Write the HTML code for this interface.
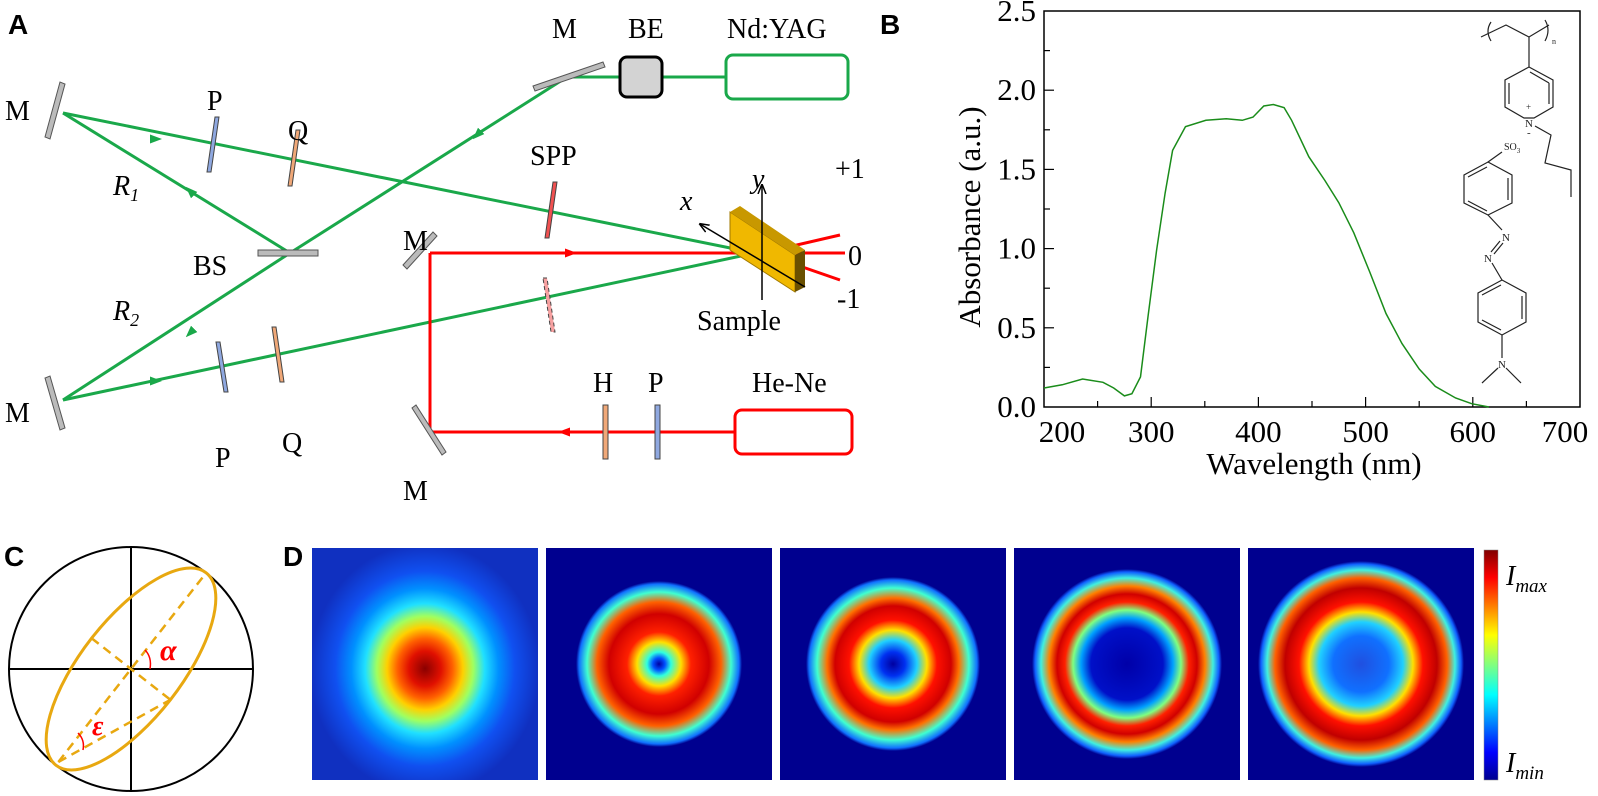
<!DOCTYPE html>
<html><head><meta charset="utf-8">
<style>
body{margin:0;background:#fff;width:1598px;height:796px;overflow:hidden;position:relative;font-family:"Liberation Serif",serif}
svg{position:absolute;left:0;top:0}
.img{position:absolute;top:548px;width:226px;height:232px}
</style></head><body>
<svg width="1598" height="796" font-family="Liberation Serif, serif">
<defs>
<marker id="ag" markerWidth="4" markerHeight="4" refX="2" refY="2" orient="auto"><path d="M0,0.5 L4,2 L0,3.5 Z" fill="#1aa84a"/></marker>
<marker id="ar" markerWidth="4" markerHeight="4" refX="2" refY="2" orient="auto"><path d="M0,0.5 L4,2 L0,3.5 Z" fill="#f00"/></marker>
<marker id="ak" markerWidth="10" markerHeight="10" refX="9" refY="5" orient="auto" markerUnits="userSpaceOnUse"><path d="M0,1 L10,5 L0,9" fill="none" stroke="#000" stroke-width="1.5"/></marker>
</defs>
<!-- Panel A -->
<g>
<text x="8" y="34" font-family="Liberation Sans, sans-serif" font-weight="bold" font-size="28">A</text>
<g stroke="#1aa84a" stroke-width="3" fill="none">
<line x1="726" y1="77" x2="567" y2="77"/>
<line x1="567" y1="77" x2="290" y2="253"/>
<line x1="290" y1="253" x2="63" y2="400"/>
<line x1="290" y1="253" x2="63" y2="113"/>
<line x1="63" y1="113" x2="755" y2="253"/>
<line x1="63" y1="400" x2="755" y2="253"/>
<path d="M478,134 L477,135" marker-end="url(#ag)"/>
<path d="M191,192 L190,191" marker-end="url(#ag)"/>
<path d="M191,332 L190,333" marker-end="url(#ag)"/>
<path d="M155,139 L156,139" marker-end="url(#ag)"/>
<path d="M155,381 L156,381" marker-end="url(#ag)"/>
</g>
<g stroke="#f00" stroke-width="3" fill="none">
<line x1="735" y1="432" x2="430" y2="432"/>
<line x1="430" y1="432" x2="430" y2="253"/>
<line x1="430" y1="253" x2="755" y2="253"/>
<line x1="762" y1="253" x2="840" y2="235"/>
<line x1="762" y1="253" x2="845" y2="253"/>
<line x1="762" y1="253" x2="840" y2="280"/>
<path d="M570,253 L571,253" marker-end="url(#ar)"/>
<path d="M565,432 L564,432" marker-end="url(#ar)"/>
</g>
<rect x="726" y="55" width="122" height="44" rx="7" fill="none" stroke="#1aa84a" stroke-width="3"/>
<rect x="620" y="57" width="42" height="40" rx="7" fill="#d3d3d3" stroke="#000" stroke-width="3"/>
<rect x="735" y="410" width="117" height="44" rx="7" fill="none" stroke="#f00" stroke-width="3"/>
<g stroke="#555" stroke-width="1" fill="#bbb">
<polygon points="533,86 603,62 605,67 535,91"/>
<polygon points="45,137 60,82 65,84 50,139"/>
<polygon points="45,378 60,430 65,428 50,376"/>
<polygon points="403,265 433,232 437,236 407,269"/>
<polygon points="412,408 442,455 446,452 416,405"/>
<rect x="258" y="250" width="60" height="6"/>
</g>
<g stroke="#444" stroke-width="1">
<polygon points="215,117 219,117 211,172 207,172" fill="#8fa8e0"/>
<polygon points="296,130 300,130 292,186 288,186" fill="#f0a878"/>
<polygon points="216,342 220,342 228,392 224,392" fill="#8fa8e0"/>
<polygon points="272,327 276,327 284,382 280,382" fill="#f0a878"/>
<polygon points="553,182 557,182 549,238 545,238" fill="#f05050"/>
<polygon points="543,278 547,278 555,332 551,332" fill="#f6a0a0" stroke-dasharray="4,3"/>
<rect x="603" y="405" width="5" height="54" fill="#f0a878"/>
<rect x="655" y="405" width="5" height="54" fill="#8fa8e0"/>
</g>
<g>
<polygon points="730,212 795,255 795,292 730,250" fill="#f0b800" stroke="#a07800"/>
<polygon points="730,212 740,206 805,250 795,255" fill="#c89800"/>
<polygon points="795,255 805,250 805,287 795,292" fill="#6a5000"/>
<line x1="762" y1="300" x2="762" y2="185" stroke="#000" stroke-width="1.5" marker-end="url(#ak)"/>
<line x1="805" y1="287" x2="700" y2="224" stroke="#000" stroke-width="1.5" marker-end="url(#ak)"/>
</g>
<g font-size="28" fill="#000">
<text x="5" y="120">M</text><text x="5" y="422">M</text>
<text x="207" y="110">P</text><text x="288" y="140">Q</text>
<text x="215" y="467">P</text><text x="282" y="452">Q</text>
<text x="193" y="275">BS</text>
<text x="113" y="195" font-style="italic">R<tspan font-size="18" dy="6">1</tspan></text>
<text x="113" y="320" font-style="italic">R<tspan font-size="18" dy="6">2</tspan></text>
<text x="552" y="38">M</text><text x="628" y="38">BE</text><text x="727" y="38">Nd:YAG</text>
<text x="530" y="165">SPP</text>
<text x="403" y="250">M</text><text x="403" y="500">M</text>
<text x="593" y="392">H</text><text x="648" y="392">P</text><text x="752" y="392">He-Ne</text>
<text x="697" y="330">Sample</text>
<text x="680" y="210" font-style="italic">x</text><text x="752" y="188" font-style="italic">y</text>
<text x="835" y="178">+1</text><text x="848" y="265">0</text><text x="837" y="308">-1</text>
</g>
</g>

<!-- Panel B -->
<g id="chartB">
<text x="880" y="34" font-family="Liberation Sans, sans-serif" font-weight="bold" font-size="28">B</text>
<rect x="1044" y="11" width="536" height="396" fill="none" stroke="#000" stroke-width="1.5"/>
<g id="ticksB"></g>
<path id="curveB" fill="none" stroke="#1a8c1a" stroke-width="1.5"/>
<text x="1314" y="474" text-anchor="middle" font-size="31">Wavelength (nm)</text>
<text transform="translate(980,217) rotate(-90)" text-anchor="middle" font-size="31">Absorbance (a.u.)</text>
<g stroke="#222" stroke-width="1.2" fill="none">
<polyline points="1481,37 1506,25 1529,37 1549,25"/>
<path d="M1491,22 Q1485,31 1491,41 M1545,20 Q1551,30 1545,41"/>
<line x1="1529" y1="37" x2="1529" y2="67"/>
<polygon points="1529,67 1553,80 1553,107 1534,118 1524,118 1505,107 1505,80"/>
<path d="M1509,83 L1509,104 M1549,83 L1549,104 M1530,72 L1549,83"/>
<polyline points="1535,126 1551,135 1545,163 1571,170 1571,197"/>
<line x1="1488" y1="162" x2="1502" y2="152"/>
<polygon points="1488,162 1512,175 1512,203 1488,215 1464,203 1464,175"/>
<path d="M1508,178 L1508,200 M1468,177 L1487,167 M1468,201 L1487,211"/>
<line x1="1488" y1="215" x2="1502" y2="230"/>
<path d="M1503,243 L1494,254 M1500,241 L1491,252"/>
<line x1="1492" y1="263" x2="1502" y2="280"/>
<polygon points="1502,280 1526,293 1526,322 1502,335 1478,322 1478,293"/>
<path d="M1522,296 L1522,319 M1482,295 L1501,285 M1482,320 L1501,330"/>
<line x1="1502" y1="335" x2="1502" y2="358"/>
<path d="M1498,368 L1482,383 M1506,368 L1521,383"/>
</g>
<g font-family="Liberation Serif, serif" font-size="11" fill="#222">
<text x="1525" y="127">N</text><text x="1526" y="110" font-size="9">+</text><text x="1527" y="136" font-size="11">-</text>
<text x="1504" y="150" font-size="10">SO<tspan font-size="7" dy="3">3</tspan></text>
<text x="1502" y="241">N</text><text x="1484" y="262">N</text><text x="1498" y="368">N</text>
<text x="1552" y="44" font-size="8">n</text>
</g>
</g>

<!-- Panel C -->
<g>
<text x="4" y="566" font-family="Liberation Sans, sans-serif" font-weight="bold" font-size="28">C</text>
<circle cx="131" cy="669" r="122" fill="none" stroke="#000" stroke-width="2"/>
<line x1="9" y1="669" x2="253" y2="669" stroke="#000" stroke-width="2"/>
<line x1="131" y1="547" x2="131" y2="791" stroke="#000" stroke-width="2"/>
<g transform="translate(131,669) rotate(-52)">
<ellipse cx="0" cy="0" rx="122" ry="50" fill="none" stroke="#e8a810" stroke-width="3"/>
<g stroke="#e8a810" stroke-width="2.5" stroke-dasharray="9,6" fill="none">
<line x1="-118" y1="0" x2="118" y2="0"/>
<line x1="0" y1="-50" x2="0" y2="50"/>
<line x1="-118" y1="0" x2="0" y2="50"/>
</g>
</g>
<path d="M145,650 Q152,657 150,669" stroke="#f00" stroke-width="1.5" fill="none"/>
<path d="M78,733 Q85,740 83,750" stroke="#f00" stroke-width="1.5" fill="none"/>
<text x="160" y="660" fill="#f00" font-size="30" font-weight="bold" font-style="italic">α</text>
<text x="92" y="735" fill="#f00" font-size="28" font-weight="bold" font-style="italic">ε</text>
</g>

<!-- Panel D labels -->
<text x="283" y="566" font-family="Liberation Sans, sans-serif" font-weight="bold" font-size="28">D</text>
<defs><linearGradient id="jet" x1="0" y1="1" x2="0" y2="0">
<stop offset="0" stop-color="#00008f"/><stop offset="0.12" stop-color="#0000ff"/><stop offset="0.37" stop-color="#00ffff"/><stop offset="0.5" stop-color="#80ff80"/><stop offset="0.63" stop-color="#ffff00"/><stop offset="0.88" stop-color="#ff0000"/><stop offset="1" stop-color="#800000"/></linearGradient></defs>
<rect x="1484" y="550" width="14" height="230" fill="url(#jet)" stroke="#888" stroke-width="0.5"/>
<text x="1506" y="585" font-size="28" font-style="italic">I<tspan font-size="19" dy="7">max</tspan></text>
<text x="1506" y="772" font-size="28" font-style="italic">I<tspan font-size="19" dy="7">min</tspan></text>
</svg>

<div class="img" style="left:312px;background:radial-gradient(ellipse 115px 125px at 50% 52%,#8a0000 0%,#e01000 14%,#ff6000 24%,#ffd000 33%,#a0ff60 42%,#20e0ff 52%,#0090ff 64%,#1050f0 78%,#1030c0 100%)"></div>
<div class="img" style="left:546px;background:radial-gradient(circle at 50% 50%,#0000a0 0px,#0050ff 6px,#30ffe0 12px,#ffe000 22px,#ff2000 32px,#d00000 50px,#ff6000 62px,#40ffd0 72px,#1070ff 80px,#00008f 83px)"></div>
<div class="img" style="left:780px;background:radial-gradient(circle at 50% 50%,#0000a0 0px,#0030f0 12px,#20d0ff 24px,#ffe000 34px,#ff1000 44px,#d00000 58px,#ff7000 66px,#40ffd0 76px,#1070ff 84px,#00008f 87px)"></div>
<div class="img" style="left:1014px;background:radial-gradient(circle at 50% 50%,#0000a8 0px,#0010c8 36px,#00a0ff 46px,#80ff80 54px,#ff2000 62px,#d00000 70px,#ff8000 78px,#40f0e0 86px,#1060ff 92px,#00008f 95px)"></div>
<div class="img" style="left:1248px;background:radial-gradient(circle at 50% 50%,#2050e0 0px,#1070ff 28px,#20d0ff 42px,#ffe000 52px,#ff1000 62px,#c00000 76px,#ff6000 86px,#40f0e0 94px,#1060ff 100px,#00008f 103px)"></div>

<script>
const wavelengths=[200,217,236,255,265,275,282,290,297,305,313,320,332,351,370,385,395,405,414,424,431,447,462,475,489,504,519,534,550,565,584,599,615];
const absorbance=[0.12,0.14,0.177,0.156,0.12,0.07,0.084,0.19,0.57,0.99,1.35,1.62,1.77,1.81,1.82,1.81,1.83,1.90,1.91,1.89,1.81,1.58,1.43,1.29,1.10,0.85,0.59,0.40,0.24,0.13,0.057,0.021,0.0];
const xTicks=[200,300,400,500,600,700];
const yTicks=[0.0,0.5,1.0,1.5,2.0,2.5];
const X0=1044,X1=1580,Y0=407,Y1=11;
function sx(v){return X0+(v-200)/500*(X1-X0);}
function sy(v){return Y0-(v/2.5)*(Y0-Y1);}
const NS='http://www.w3.org/2000/svg';
let d='';
wavelengths.forEach((w,i)=>{d+=(i?'L':'M')+sx(w).toFixed(1)+','+sy(absorbance[i]).toFixed(1);});
document.getElementById('curveB').setAttribute('d',d);
const tg=document.getElementById('ticksB');
function mk(tag,attrs){const e=document.createElementNS(NS,tag);for(const k in attrs)e.setAttribute(k,attrs[k]);tg.appendChild(e);return e;}
for(let v=250;v<700;v+=50){
  const major=(v%100===0);
  const t=mk('line',{x1:sx(v),x2:sx(v),y1:Y0,y2:Y0-(major?10:6),stroke:'#000','stroke-width':1.2});
  
  
}
for(let v=0.25;v<2.5;v+=0.25){
  const major=(Math.abs(v*2-Math.round(v*2))<1e-6);
  const t=mk('line',{x1:X0,x2:X0+(major?10:6),y1:sy(v),y2:sy(v),stroke:'#000','stroke-width':1.2});
  
  
}
xTicks.forEach((v,i)=>{
  let x=sx(v); if(i===0)x+=18; if(i===xTicks.length-1)x-=15;
  const t=mk('text',{x:x,y:442,'text-anchor':'middle','font-size':31});
  t.textContent=String(v);
  
  
});
yTicks.forEach(v=>{
  const t=mk('text',{x:X0-8,y:sy(v)+10,'text-anchor':'end','font-size':31});
  t.textContent=v.toFixed(1);
  
  
});
</script>
</body></html>
